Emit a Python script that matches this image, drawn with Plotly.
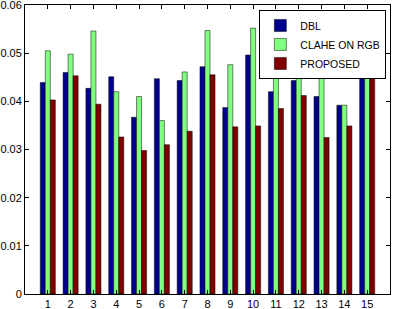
import plotly.graph_objects as go

categories = list(range(1, 16))
dbl = [0.0439, 0.0460, 0.0427, 0.0451, 0.0367, 0.0447, 0.0443, 0.0472, 0.0387, 0.0496, 0.0420, 0.0443, 0.0410, 0.0392, 0.0481]
clahe = [0.0505, 0.0498, 0.0546, 0.0420, 0.0410, 0.0360, 0.0461, 0.0547, 0.0476, 0.0552, 0.0520, 0.0505, 0.0495, 0.0392, 0.0500]
proposed = [0.0403, 0.0453, 0.0394, 0.0326, 0.0298, 0.0310, 0.0338, 0.0455, 0.0347, 0.0349, 0.0385, 0.0412, 0.0325, 0.0349, 0.0468]
y_ticks = [0, 0.01, 0.02, 0.03, 0.04, 0.05, 0.06]
y_tick_labels = ["0", "0.01", "0.02", "0.03", "0.04", "0.05", "0.06"]

series = [("DBL", dbl, "#00008F"), ("CLAHE ON RGB", clahe, "#80FF80"), ("PROPOSED", proposed, "#800000")]

fig = go.Figure()
for name, vals, col in series:
    fig.add_trace(go.Bar(x=categories, y=vals, name=name,
                         marker=dict(color=col, line=dict(color="black", width=0.5))))

axis_common = dict(showline=True, linecolor="black", linewidth=1, mirror="ticks",
                   ticks="inside", ticklen=4, tickcolor="black", showgrid=False,
                   zeroline=False, automargin=False, ticklabeloverflow="allow",
                   tickfont=dict(family="Liberation Sans, Arial", size=11, color="black"))

fig.update_layout(
    width=395, height=309,
    margin=dict(l=25, r=5, t=5, b=15),
    paper_bgcolor="white", plot_bgcolor="white",
    barmode="group", bargap=0.34, bargroupgap=0,
    xaxis=dict(range=[0, 16], tickvals=categories, ticktext=[str(c) for c in categories],
               **axis_common),
    yaxis=dict(range=[0, 0.06], tickvals=y_ticks, ticktext=y_tick_labels, **axis_common),
    legend=dict(x=0.99, y=0.983, xanchor="right", yanchor="top",
                bgcolor="white", bordercolor="black", borderwidth=1,
                font=dict(family="Liberation Sans, Arial", size=10.5, color="black"),
                itemwidth=30, tracegroupgap=0),
    showlegend=True,
)

fig.write_html("out.html", config={"displayModeBar": False},
               post_script="document.body.style.margin='0';")
